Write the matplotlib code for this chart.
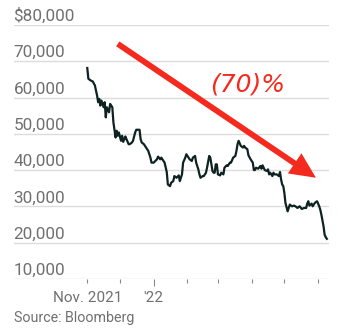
import numpy as np
import matplotlib
matplotlib.use("Agg")
import matplotlib.pyplot as plt
import matplotlib.dates as mdates
import matplotlib.transforms as mtransforms
from matplotlib.patches import FancyArrowPatch

plt.rcParams['font.family'] = ['Roboto', 'DejaVu Sans']

# Bitcoin closing price, days counted from 2021-11-10
start_date = np.datetime64('2021-11-10')
day_offsets = [
    0, 1, 3, 5, 7, 9, 10, 11, 12, 13, 15, 16, 17, 18, 20, 21, 23, 24, 26, 27,
    28, 29, 31, 32, 33, 35, 36, 38, 39, 41, 42, 44, 45, 48, 49, 50, 52, 54, 56, 58,
    59, 61, 64, 65, 67, 68, 70, 71, 73, 74, 76, 77, 79, 80, 82, 84, 85, 87, 88, 90,
    91, 93, 94, 96, 97, 99, 100, 102, 103, 104, 106, 107, 109, 110, 112, 113, 114, 115, 116, 117,
    118, 119, 120, 122, 123, 125, 126, 128, 129, 131, 132, 134, 136, 137, 138, 139, 141, 143, 144, 145,
    147, 148, 150, 151, 152, 153, 154, 155, 157, 159, 160, 161, 162, 163, 165, 166, 167, 168, 170, 171,
    172, 174, 176, 177, 178, 179, 180, 181, 182, 184, 185, 186, 188, 190, 192, 193, 195, 197, 199, 201,
    202, 203, 204, 206, 207, 209, 211, 212, 213, 214, 215, 217, 218, 219, 220,
]
prices = [
    68150, 65190, 64730, 64450, 63340, 60565, 58715, 59640, 57790, 59180,
    57330, 58715, 54550, 57330, 55940, 58250, 57330, 53165, 49000, 50850,
    49465, 50390, 48080, 49465, 47800, 49280, 48540, 47150, 47150, 47615,
    48080, 50390, 51130, 51130, 48540, 47615, 47150, 46225, 45300, 43450,
    42065, 42065, 42990, 43730, 42990, 43450, 42525, 42065, 39475, 36050,
    35590, 36515, 36980, 38365, 37900, 38550, 36980, 38830, 42065, 43450,
    44375, 43450, 42990, 42525, 43450, 43915, 42065, 40215, 38830, 37900,
    38365, 38365, 39290, 40675, 43915, 43450, 41600, 39750, 39290, 39290,
    41600, 41600, 38830, 38550, 39290, 38830, 40675, 41325, 41140, 42065,
    42065, 43450, 43915, 45300, 47150, 48080, 46690, 46225, 46690, 46225,
    45765, 44100, 42990, 42525, 42065, 40030, 40030, 40675, 40400, 41140,
    40400, 41325, 40675, 40030, 39750, 40215, 38830, 39290, 38365, 39290,
    38830, 38830, 38365, 39475, 37440, 36050, 35590, 33740, 30965, 28650,
    29575, 30500, 30040, 30225, 29855, 29575, 30040, 29300, 29575, 29575,
    30780, 31430, 30225, 30780, 30040, 30965, 31430, 30780, 30040, 29115,
    27725, 24490, 22175, 21530, 21070,
]

y_ticks = [10000, 20000, 30000, 40000, 50000, 60000, 70000, 80000]
y_tick_labels = ['10,000', '20,000', '30,000', '40,000', '50,000', '60,000', '70,000', '$80,000']
month_ticks = ['2021-11-10', '2021-12-10', '2022-01-10', '2022-02-10',
               '2022-03-10', '2022-04-10', '2022-05-10', '2022-06-10']
month_tick_labels = ['Nov. 2021', '', "'22", '', '', '', '', '']
year_tick = '2022-01-10'

dates = start_date + np.array(day_offsets).astype('timedelta64[D]')

W, H = 343, 331
fig = plt.figure(figsize=(W / 100, H / 100), dpi=100)
ax = fig.add_axes([14 / W, 52 / H, 315 / W, 254 / H])

grey_text = '#707070'
grid_col = '#dcdcdc'
red = '#f42a1f'

ax.plot(dates, prices, color='#0f2222', lw=1.6, solid_joinstyle='round')

ax.set_ylim(10000, 80000)
ax.set_xlim(start_date - np.timedelta64(67, 'D') - np.timedelta64(7, 'h'),
            start_date + np.timedelta64(222, 'D'))

for s in ax.spines.values():
    s.set_visible(False)

# horizontal grid with labels sitting above each line
ax.set_yticks(y_ticks)
ax.set_yticklabels([])
ax.tick_params(axis='y', length=0)
for v in y_ticks:
    ax.axhline(v, color=grid_col, lw=1.0, zorder=0)
label_tf = mtransforms.blended_transform_factory(ax.transAxes, ax.transData)
offset = mtransforms.ScaledTranslation(-0.5 / 100, 4 / 100, fig.dpi_scale_trans)
for v, lab in zip(y_ticks, y_tick_labels):
    ax.text(0, v, lab, transform=label_tf + offset, ha='left', va='baseline',
            fontsize=12.3, color=grey_text)

# monthly ticks: longer mark at the start of the year
tick_dates = [np.datetime64(d) for d in month_ticks]
minor = [d for d in tick_dates if d != np.datetime64(year_tick)]
minor_labels = [l for d, l in zip(tick_dates, month_tick_labels) if d != np.datetime64(year_tick)]
ax.xaxis.set_major_locator(matplotlib.ticker.FixedLocator(mdates.date2num([np.datetime64(year_tick)])))
ax.xaxis.set_major_formatter(matplotlib.ticker.FixedFormatter(["'22"]))
ax.xaxis.set_minor_locator(matplotlib.ticker.FixedLocator(mdates.date2num(minor)))
ax.xaxis.set_minor_formatter(matplotlib.ticker.FixedFormatter(minor_labels))
ax.tick_params(axis='x', which='major', length=5, width=0.8, color='#8a8a8a',
               labelsize=11, labelcolor=grey_text, pad=4)
ax.tick_params(axis='x', which='minor', length=2.8, width=0.8, color='#8a8a8a',
               labelsize=11, labelcolor=grey_text, pad=6.2)

fig.text(14 / W, 1 - 318 / H, 'Source: Bloomberg', ha='left', va='center',
         fontsize=10.3, color=grey_text)

# trend arrow and decline annotation
arrow_start = (start_date + np.timedelta64(28, 'D'), 74800)
arrow_end = (start_date + np.timedelta64(210, 'D'), 37900)
arr = FancyArrowPatch(
    (mdates.date2num(arrow_start[0]), arrow_start[1]),
    (mdates.date2num(arrow_end[0]), arrow_end[1]),
    arrowstyle='simple,head_length=18.5,head_width=17.5,tail_width=4.2',
    mutation_scale=1, color=red, lw=0, shrinkA=0, shrinkB=0, zorder=5)
ax.add_patch(arr)

ax.text(mdates.date2num(start_date + np.timedelta64(147, 'D')), 63700, '(70)%',
        fontsize=18, family=['DejaVu Sans'], style='oblique', color=red,
        ha='center', va='center')

fig.savefig('out.png', dpi=100, facecolor='white')
